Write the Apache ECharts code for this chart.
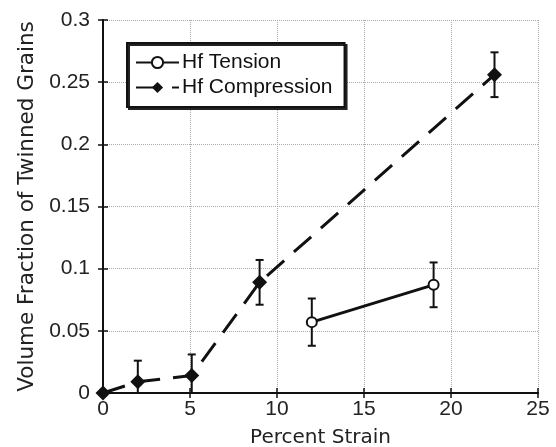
<!DOCTYPE html>
<html>
<head>
<meta charset="utf-8">
<script src="https://cdn.jsdelivr.net/npm/echarts@6/dist/echarts.min.js"></script>
<style>
  html, body { margin: 0; padding: 0; background: #fff; }
  #app { width: 556px; height: 447px; }
</style>
</head>
<body>
<div id="app"></div>
<script>
// tension data
const tensionX = [12, 19]
const tensionY = [0.057, 0.087]
const tensionErr = [0.019, 0.018]
// compression data
const compX = [0, 2, 5.1, 9, 22.5]
const compY = [0, 0.009, 0.014, 0.089, 0.256]
const compErr = [0, 0.017, 0.017, 0.018, 0.018]

const xTicks = [0, 5, 10, 15, 20, 25]
const yTicks = [0, 0.05, 0.1, 0.15, 0.2, 0.25, 0.3]

const TICK_FONT = 'Liberation Sans'
const TITLE_FONT = 'DejaVu Sans'

const echart = echarts.init(document.getElementById('app'))

function errRows (xs, ys, es) {
  return xs.map((x, i) => [x, ys[i] - es[i], ys[i] + es[i]]).filter(r => r[2] > r[1])
}

function errorBars (api) {
  const lo = api.coord([api.value(0), api.value(1)])
  const hi = api.coord([api.value(0), api.value(2)])
  const cap = 4
  const style = { stroke: '#111', lineWidth: 2 }
  return {
    type: 'group',
    children: [
      { type: 'line', shape: { x1: lo[0], y1: lo[1], x2: hi[0], y2: hi[1] }, style },
      { type: 'line', shape: { x1: lo[0] - cap, y1: lo[1], x2: lo[0] + cap, y2: lo[1] }, style },
      { type: 'line', shape: { x1: hi[0] - cap, y1: hi[1], x2: hi[0] + cap, y2: hi[1] }, style }
    ]
  }
}

const axisText = { color: '#222', fontSize: 21, fontFamily: TICK_FONT }
const frameLine = { show: true, lineStyle: { color: '#111', width: 2 } }
const frameTick = { show: true, inside: true, length: 5, lineStyle: { color: '#111', width: 1.5 } }

echart.setOption({
  animation: false,
  grid: { left: 103, right: 18, top: 20, bottom: 54, outerBoundsMode: 'none' },
  legend: {
    orient: 'vertical',
    left: 127,
    top: 43,
    padding: [9, 12, 9, 8],
    itemGap: 4,
    itemWidth: 43,
    itemHeight: 14,
    backgroundColor: '#fff',
    borderColor: '#111',
    borderWidth: 2,
    shadowColor: '#222',
    shadowOffsetX: 2,
    shadowOffsetY: 2,
    textStyle: { fontSize: 21, fontFamily: TICK_FONT, color: '#111', padding: [0, 0, 0, -2] },
    data: ['Hf Tension', 'Hf Compression']
  },
  xAxis: [{
    type: 'value',
    min: 0,
    max: 25,
    interval: 5,
    name: 'Percent Strain',
    nameLocation: 'middle',
    nameGap: 35,
    nameTextStyle: { fontSize: 20, fontFamily: TITLE_FONT, color: '#222' },
    axisLine: frameLine,
    axisTick: frameTick,
    axisLabel: Object.assign({ margin: 6 }, axisText, { customValues: xTicks }),
    splitLine: { show: true, lineStyle: { color: '#aaa', type: 'dotted' } }
  }, {
    type: 'value',
    position: 'top',
    min: 0,
    max: 25,
    interval: 5,
    axisLine: frameLine,
    axisTick: frameTick,
    axisLabel: { show: false },
    splitLine: { show: false }
  }],
  yAxis: [{
    type: 'value',
    min: 0,
    max: 0.3,
    interval: 0.05,
    name: 'Volume Fraction of Twinned Grains',
    nameLocation: 'middle',
    nameGap: 55,
    nameTextStyle: { fontSize: 21.5, fontFamily: TITLE_FONT, color: '#222' },
    axisLine: frameLine,
    axisTick: frameTick,
    axisLabel: Object.assign({ margin: 13 }, axisText, {
      customValues: yTicks,
      formatter: v => String(+v.toFixed(2))
    }),
    splitLine: { show: true, lineStyle: { color: '#aaa', type: 'dotted' } }
  }, {
    type: 'value',
    position: 'right',
    min: 0,
    max: 0.3,
    interval: 0.05,
    axisLine: frameLine,
    axisTick: frameTick,
    axisLabel: { show: false },
    splitLine: { show: false }
  }],
  series: [
    {
      name: 'Hf Tension',
      type: 'line',
      data: tensionX.map((x, i) => [x, tensionY[i]]),
      symbol: 'circle',
      symbolSize: 10,
      itemStyle: { color: '#fff', borderColor: '#111', borderWidth: 2 },
      lineStyle: { color: '#111', width: 3 },
      z: 3
    },
    {
      name: 'Hf Compression',
      type: 'line',
      data: compX.map((x, i) => [x, compY[i]]),
      symbol: 'diamond',
      symbolSize: 15,
      itemStyle: { color: '#111' },
      lineStyle: { color: '#111', width: 3, type: [23, 13] },
      z: 3
    },
    {
      type: 'custom',
      renderItem: (params, api) => errorBars(api),
      data: errRows(tensionX, tensionY, tensionErr),
      clip: true,
      z: 2
    },
    {
      type: 'custom',
      renderItem: (params, api) => errorBars(api),
      data: errRows(compX, compY, compErr),
      clip: true,
      z: 2
    }
  ]
})
</script>
</body>
</html>
